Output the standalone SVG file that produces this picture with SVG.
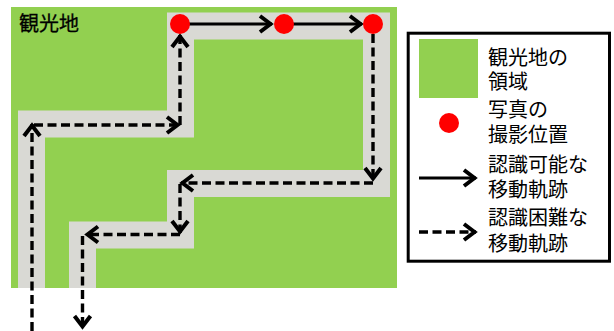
<svg xmlns="http://www.w3.org/2000/svg" width="614" height="331" viewBox="0 0 614 331">
  <style>
    .t { font-family: "Liberation Sans", "Noto Sans CJK JP", sans-serif; font-size: 20px; fill: #000; }
    .road { fill: none; stroke: #D9D9D4; stroke-width: 27; stroke-linejoin: miter; stroke-linecap: butt; }
    .solid { fill: none; stroke: #000; stroke-width: 3.2; }
    .dash { fill: none; stroke: #000; stroke-width: 3.4; stroke-dasharray: 9 4.5; }
    .dot { fill: #FF0000; }
  </style>
  <defs>
    <marker id="arr" markerUnits="userSpaceOnUse" markerWidth="30" markerHeight="30" viewBox="-15 -15 30 30" refX="0" refY="0" orient="auto" overflow="visible">
      <path d="M-12,-8 L-1.5,0 L-12,8" fill="none" stroke="#000" stroke-width="4" stroke-linejoin="miter"/>
    </marker>
  </defs>
  <rect width="614" height="331" fill="#FFFFFF"/>

  <g id="area">
    <rect x="11" y="7" width="386" height="281" fill="#92D050"/>
    <text class="t" x="19" y="31" style="stroke:#000;stroke-width:0.3">観光地</text>
  </g>

  <g id="road">
    <polyline class="road" points="31.5,288 31.5,124 180.5,124 180.5,26 376.5,26 376.5,183.5 180.5,183.5 180.5,235 82.5,235 82.5,288"/>
  </g>

  <g id="connectors">
    <line class="solid" x1="185" y1="24" x2="272" y2="24" marker-end="url(#arr)"/>
    <line class="solid" x1="290" y1="24" x2="362" y2="24" marker-end="url(#arr)"/>
    <line class="dash" x1="32" y1="331" x2="32" y2="124" marker-end="url(#arr)"/>
    <line class="dash" x1="34" y1="125" x2="179" y2="125" marker-end="url(#arr)"/>
    <line class="dash" x1="180" y1="125" x2="180" y2="35" marker-end="url(#arr)"/>
    <line class="dash" x1="373" y1="34" x2="373" y2="180" marker-end="url(#arr)"/>
    <line class="dash" x1="373" y1="183" x2="181" y2="183" marker-end="url(#arr)"/>
    <line class="dash" x1="180" y1="184" x2="180" y2="233" marker-end="url(#arr)"/>
    <line class="dash" x1="180" y1="234.5" x2="86" y2="234.5" marker-end="url(#arr)"/>
    <line class="dash" x1="82.5" y1="236" x2="82.5" y2="328" marker-end="url(#arr)"/>
  </g>

  <g id="photo1"><circle class="dot" cx="180" cy="24" r="10"/></g>
  <g id="photo2"><circle class="dot" cx="284" cy="24" r="10"/></g>
  <g id="photo3"><circle class="dot" cx="373" cy="24" r="10"/></g>

  <g id="legend">
    <rect x="408.2" y="33.2" width="201.3" height="228" fill="#FFFFFF" stroke="#000" stroke-width="3"/>
    <rect x="419" y="39" width="59" height="59" fill="#92D050"/>
    <text class="t" x="488" y="65">観光地の</text>
    <text class="t" x="488" y="89">領域</text>
    <circle class="dot" cx="449" cy="123" r="10"/>
    <text class="t" x="488" y="117">写真の</text>
    <text class="t" x="488" y="142">撮影位置</text>
    <line class="solid" x1="419" y1="178" x2="476" y2="178" marker-end="url(#arr)"/>
    <text class="t" x="488" y="172">認識可能な</text>
    <text class="t" x="488" y="197">移動軌跡</text>
    <line class="dash" x1="419" y1="232" x2="476" y2="232" marker-end="url(#arr)"/>
    <text class="t" x="488" y="225">認識困難な</text>
    <text class="t" x="488" y="251">移動軌跡</text>
  </g>
</svg>
